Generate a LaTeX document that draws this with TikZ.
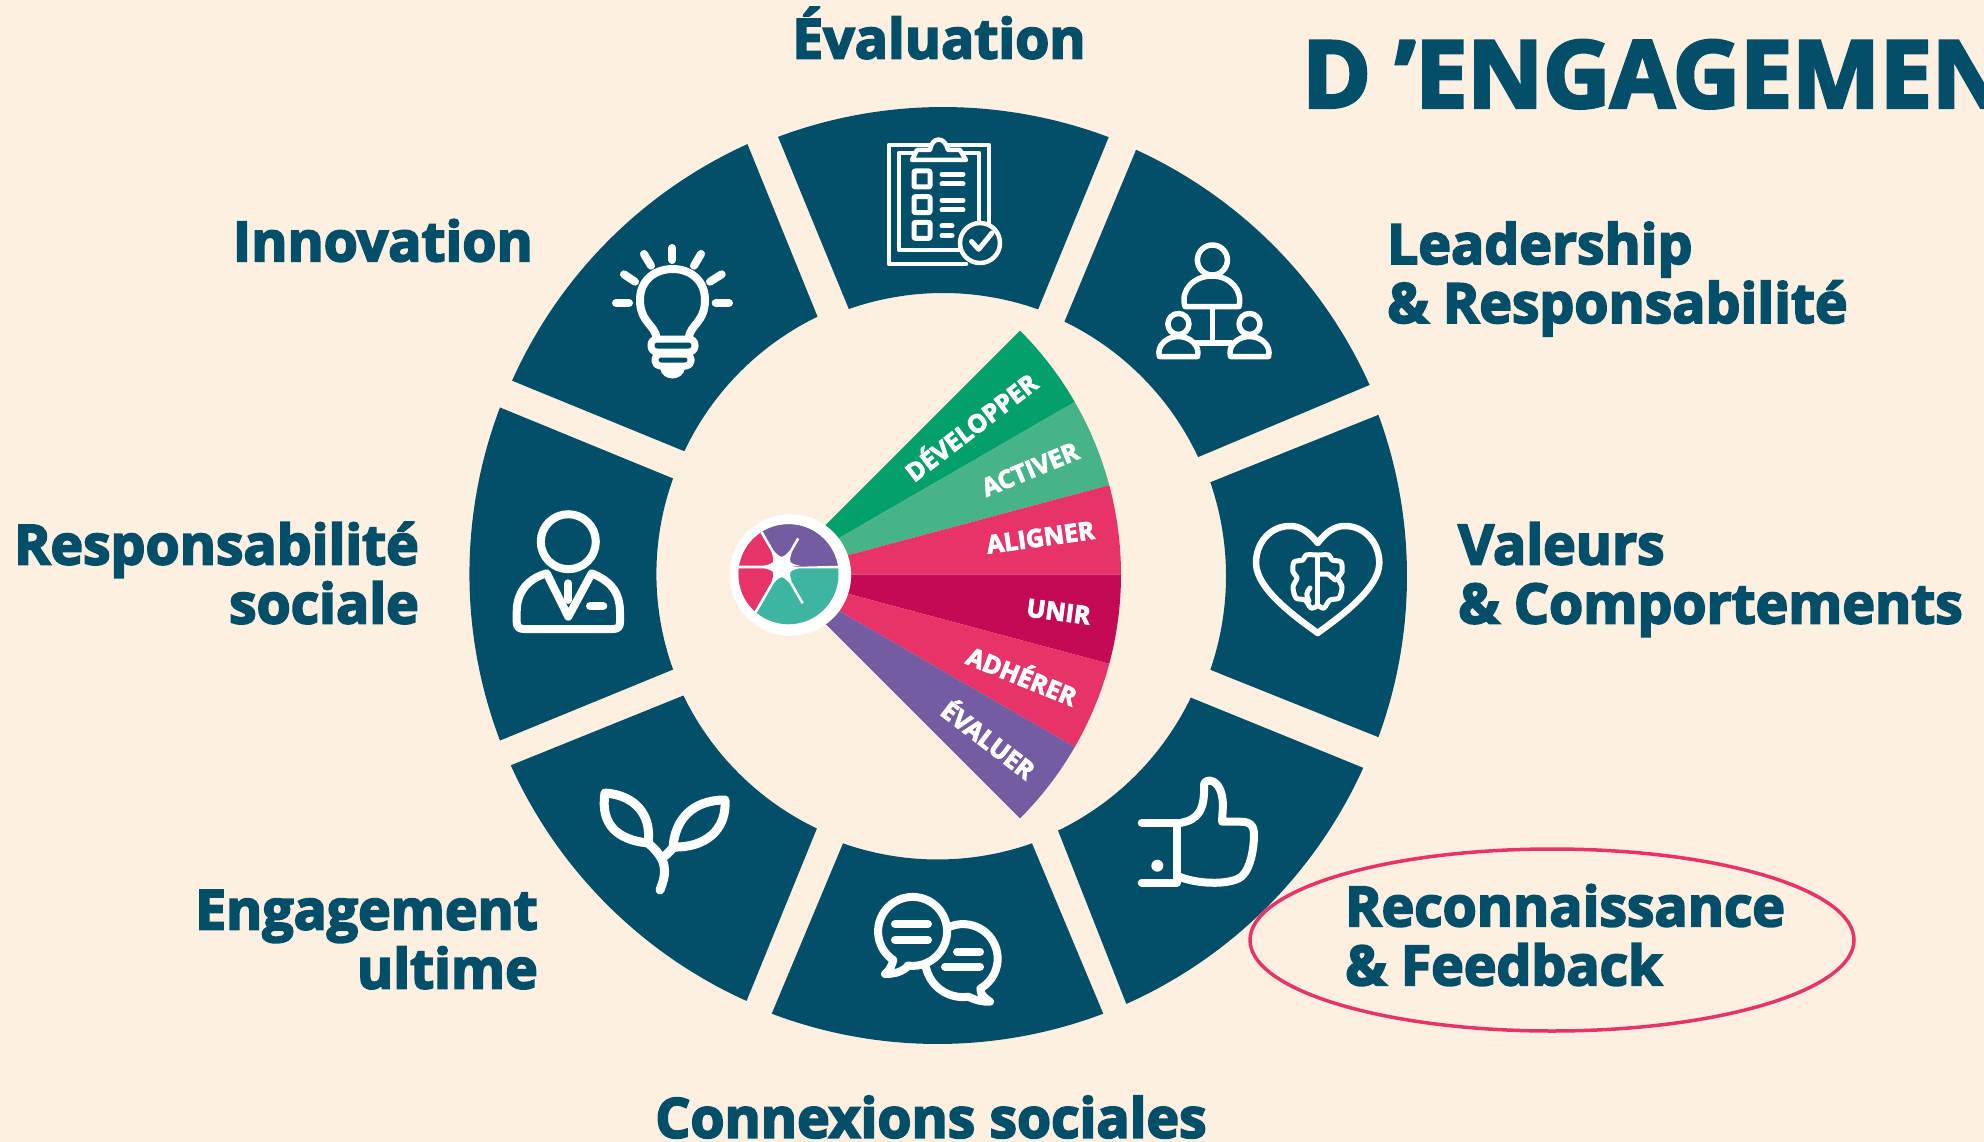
\documentclass[tikz,border=0pt]{standalone}
\usepackage{fontspec}
\usepackage{xcolor}
\usepackage{tikz}
\usetikzlibrary{shapes.geometric, calc}
\setmainfont{Open Sans}[BoldFeatures={FakeBold=3.5}]
\definecolor{pagebg}{HTML}{FEF0E1}
\definecolor{ringteal}{HTML}{034F69}
\definecolor{fandev}{HTML}{04A06B}
\definecolor{fanact}{HTML}{47B388}
\definecolor{fanpink}{HTML}{E83368}
\definecolor{fanuni}{HTML}{C40955}
\definecolor{fanviolet}{HTML}{745CA3}
\definecolor{logoteal}{HTML}{3DB5A0}
\tikzset{
    ringlabel/.style = {inner sep=0pt, text=ringteal, align=left,
        font=\bfseries\fontsize{55.2}{59}\selectfont},
    fanlabel/.style = {inner sep=0pt, text=white,
        font=\bfseries\fontsize{25}{26}\selectfont},
    icon/.style = {draw=white, line width=#1, line cap=round, line join=round},
    icon/.default = 7pt,
}
\begin{document}
\begin{tikzpicture}[x=1pt,y=-1pt]
            \fill[pagebg] (0,0) rectangle (1984,1142);
            \useasboundingbox (0,0) rectangle (1984,1142);
            % ring pieces: centre x/y, radii, outer and inner angles
            \foreach \cx/\cy/\Ra/\Rb/\oa/\ob/\ia/\ib in {
                943/578/471/285/-110.5/-69.4/-109.3/-70.5,
                940/578/471/285/-65.4/-24.2/-64.1/-25.1,
                938/576/469/288/-20.1/20.1/-19/19,
                934/574/471/285/24.3/65.9/25.7/64.2,
                937.5/575/469/284.5/69.3/110.7/70.6/109.4,
                940/571.5/471/285/114.25/155.7/115.6/154.2,
                938.4/574/469/282/159.2/200.8/160.2/199.8,
                942/573/471/285/204.1/245.6/205.3/244.1}
                \fill[ringteal] (\cx,\cy)+(\oa:\Ra) arc[start angle=\oa, end angle=\ob, radius=\Ra]
                    -- ($(\cx,\cy)+(\ib:\Rb)$) arc[start angle=\ib, end angle=\ia, radius=\Rb] -- cycle;
            % fan
            \coordinate (fan) at (776,574.5);
            \foreach \a/\col in {-45/fandev,-30/fanact,-15/fanpink,0/fanuni,15/fanpink,30/fanviolet}
                \fill[\col] (fan) -- +(\a:345) arc[start angle=\a, delta angle=15, radius=345] -- cycle;
            \foreach \name/\a/\r/\txt in {dev/-37.5/244.5/DÉVELOPPER,act/-22.5/275/ACTIVER,ali/-8/267/ALIGNER,
                uni/7.5/285/UNIR,adh/22/266/ADHÉRER,eva/37.5/269/ÉVALUER}
                \node (\name) [fanlabel, rotate=-\a] at ($(fan)+(\a:\r)$) {\txt};
            % logo
            \fill[white] (790.3,575) circle (60.8);
            \begin{scope}
                \clip (788.5,574.3) circle (50);
                \fill[logoteal] (730,520) rectangle (850,630);
                \fill[fanviolet] (781.7,567) -- (761,531) -- (761,500) -- (850,500) -- (850,567) -- cycle;
                \fill[fanpink] (781.7,567) -- (761,531) -- (720,520) -- (720,640) -- (755,612) -- cycle;
                \begin{scope}[shift={(781.7,567)}]
                    \fill[white] (0:6) \foreach \a/\t in {0/58,60/42,120/52,180/46,240/42,300/33} {
                        -- ({\a-75/\t}:\t) -- ({\a+75/\t}:\t) -- (\a+4:18)
                        .. controls (\a+30:8) .. (\a+56:18)
                    } -- cycle;
                \end{scope}
            \end{scope}
            % clipboard
            \begin{scope}[line width=4.5pt, draw=white, line join=round, line cap=round]
                \draw (966,264) -- (889,264) -- (889,145) -- (989,145) -- (989,225);
                \draw (962,250) -- (899,250) -- (899,153) -- (979,153) -- (979,222);
                \draw[fill=ringteal] (912,160) -- (917,150) -- (930,150) .. controls (932,136) and (945,136) .. (948,150)
                    -- (960,150) -- (966,160) -- cycle;
                \foreach \y in {179,204.7,230.3} {
                    \draw[line width=5pt, rounded corners=1pt] (914,\y-8) rectangle (930,\y+8);
                }
                \foreach \y/\xb in {174.3/963,184/963,200.3/963,210/963,226/952,235.7/952}
                    \draw[line width=5pt] (942,\y) -- (\xb,\y);
                \draw[fill=ringteal] (980,243) circle (20);
                \draw[line width=5pt] (971.5,241.5) -- (978.7,249.3) -- (992,233);
            \end{scope}
            % leadership
            \begin{scope}[icon=5.5pt]
                \draw (1212.4,260) circle (15);
                \draw (1185,306.5) -- (1239,306.5) .. controls (1243,290) and (1230,276) .. (1212,276)
                    .. controls (1194,276) and (1180,290) .. (1185,306.5);
                \draw (1212.4,307) -- (1212.4,343);
                \draw (1196,343) -- (1231,343);
                \foreach \hx in {1178.4,1249.5} {
                    \draw (\hx,324) circle (10.5);
                    \draw (\hx-19,356.5) -- (\hx+19,356.5) .. controls (\hx+22,346) and (\hx+12,336.5) .. (\hx,336.5)
                        .. controls (\hx-12,336.5) and (\hx-22,346) .. (\hx-19,356.5);
                }
            \end{scope}
            % heart and brain
            \begin{scope}[icon=6.5pt]
                \draw (1317.7,543) .. controls (1308,531) and (1300,526) .. (1290,526)
                    .. controls (1270,526) and (1256,543) .. (1256,563)
                    .. controls (1256,590) and (1300,620) .. (1317.7,633)
                    .. controls (1335,620) and (1379.3,590) .. (1379.3,563)
                    .. controls (1379.3,543) and (1365,526) .. (1345,526)
                    .. controls (1335,526) and (1327,531) .. (1317.7,543);
                \draw[line width=5pt] plot[smooth] coordinates {(1317,555) (1306,555) (1303,560) (1294,562) (1293,572)
                    (1297,578) (1293,587) (1296,598) (1305,600) (1311,608) (1317,606)};
                \draw[line width=5pt] plot[smooth] coordinates {(1319,555) (1329,555) (1332,560) (1341,562) (1342,572)
                    (1338,578) (1342,587) (1339,598) (1330,600) (1324,608) (1319,606)};
                \draw[line width=5pt] (1317.7,555) -- (1317.7,605);
                \draw[line width=5pt] (1310,588) .. controls (1306,592) and (1306,596) .. (1309,601);
                \draw[line width=5pt] (1318,574) -- (1328,574) -- (1335,580);
            \end{scope}
            % thumb
            \begin{scope}[icon=8pt]
                \draw (1141.7,822.7) -- (1176.7,822.7) -- (1176.7,882.7) -- (1141.7,882.7);
                \fill[white] (1157.3,865.7) circle (6);
                \draw (1180,823) .. controls (1198,820) and (1205,810) .. (1204,785)
                    .. controls (1204,778) and (1222,776) .. (1223,805) -- (1222,821.7) -- (1240,821.7)
                    .. controls (1250,821.7) and (1254,825) .. (1254,835)
                    .. controls (1254,850) and (1250,868) .. (1243,875)
                    .. controls (1235,885) and (1200,885) .. (1180,877);
            \end{scope}
            % chat
            \begin{scope}[icon=8pt]
                \draw (893.3,960) arc[start angle=124, end angle=458, radius=34.5]
                    -- (906.7,967.3) .. controls (900,973) and (892,974) .. (885,974) .. controls (890,970) and (892,965) .. cycle;
                \draw (950,926.7) arc[start angle=-112.4, end angle=60, radius=34.5]
                    .. controls (980,995) and (985,998) .. (990,1001.7) .. controls (982,1002) and (975,1000) .. (968.3,996.7)
                    arc[start angle=82, end angle=168, radius=38];
                \foreach \xa/\xb/\y in {895/928/924,895/928/940,957/980/951.7,945/980/966.7}
                    \draw (\xa,\y) -- (\xb,\y);
            \end{scope}
            % sprout
            \begin{scope}[icon=9pt]
                \draw (660,890) .. controls (667,872) and (668,860) .. (648,843);
                \draw (665,856) -- (675,846);
                \draw (605,793) .. controls (635,795) and (652,815) .. (648,843)
                    .. controls (618,840) and (600,825) .. cycle;
                \draw (725,800) .. controls (692,800) and (675,820) .. (673,847)
                    .. controls (705,848) and (727,830) .. cycle;
            \end{scope}
            % person
            \begin{scope}[icon=8pt]
                \draw (568.3,541.7) circle (27.5);
                \draw (546.7,573.3) -- (568.3,616.7) -- (591.7,573.3)
                    .. controls (608,580) and (620,590) .. (620,612) -- (620,622) .. controls (620,627) and (618,629) .. (613,629)
                    -- (524,629) .. controls (519,629) and (516.7,627) .. (516.7,622) -- (516.7,612)
                    .. controls (516.7,590) and (530,578) .. (546.7,573.3);
                \draw (568.3,583.3) -- (568.3,600);
                \draw (590,606) -- (603.3,606);
            \end{scope}
            % bulb
            \begin{scope}[icon=8pt]
                \draw (656.7,338) .. controls (655,325) and (640,322) .. (640,300)
                    .. controls (640,280) and (655,269) .. (672.7,269)
                    .. controls (690,269) and (705,280) .. (705,300)
                    .. controls (705,322) and (690,325) .. (688.7,338);
                \draw[line width=7pt, rounded corners=6pt] (651,339) rectangle (695,352);
                \draw[line width=7pt, rounded corners=5pt] (655,354) rectangle (691,366);
                \fill[white] (660,368) .. controls (662,382) and (683,382) .. (685,368) -- cycle;
                \foreach \xa/\ya/\xb/\yb in {672.3/248/672.3/260,644/254/651/265.7,701/254/694/265.7,
                    624/274.3/635/281.7,721.7/274.3/710/281.7,616/303/629/303,715.7/303/729/303}
                    \draw (\xa,\ya) -- (\xb,\yb);
            \end{scope}
            % labels
            \node (eval) [ringlabel] at (939,33) {Évaluation};
            \node (lead) [ringlabel, anchor=west] at (1387,279) {Leadership\\\& Responsabilité};
            \node (vale) [ringlabel, anchor=west] at (1458,579.5) {Valeurs\\\& Comportements};
            \node (reco) [ringlabel, anchor=west] at (1345,935) {Reconnaissance\\\& Feedback};
            \node (conn) [ringlabel] at (931,1117) {Connexions sociales};
            \node (enga) [ringlabel, anchor=east, align=right] at (538,939.5) {Engagement\\ultime};
            \node (resp) [ringlabel, anchor=east, align=right] at (419,573) {Responsabilité\\sociale};
            \node (inno) [ringlabel, anchor=east] at (533,240.5) {Innovation};
            \node (title) [inner sep=0pt, text=ringteal, anchor=base west, font=\bfseries\fontsize{93}{93}\selectfont] at (1302,107.5) {D ’ENGAGEMEN};
            \node (loop) [draw=fanpink, line width=3.5pt, ellipse, minimum width=604pt, minimum height=182pt] at (1552,940) {};
\end{tikzpicture}
\end{document}
